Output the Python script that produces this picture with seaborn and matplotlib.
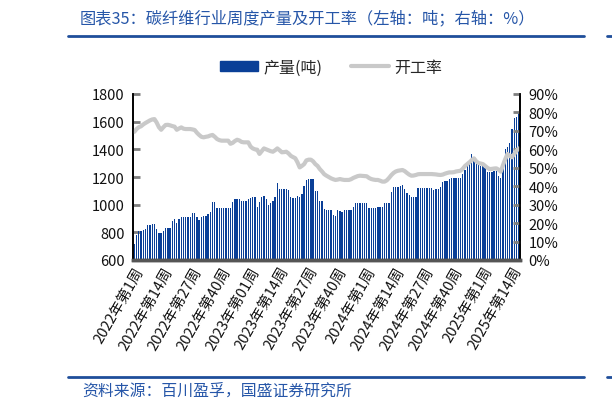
import numpy as np
import pandas as pd
import matplotlib
matplotlib.use("Agg")
import matplotlib.pyplot as plt
import seaborn as sns
from matplotlib.patches import Patch
from matplotlib.lines import Line2D

sns.set_theme(style="white")
plt.rcParams['font.family'] = ['Noto Sans CJK SC', 'DejaVu Sans']
plt.rcParams['axes.unicode_minus'] = False

# ---------------- data ----------------
title_text = "图表35：碳纤维行业周度产量及开工率（左轴：吨；右轴：%）"
source_text = "资料来源：百川盈孚，国盛证券研究所"
bar_name = "产量(吨)"
line_name = "开工率"

tick_labels = ["2022年第1周", "2022年第14周", "2022年第27周", "2022年第40周",
               "2023年第01周", "2023年第14周", "2023年第27周", "2023年第40周",
               "2024年第1周", "2024年第14周", "2024年第27周", "2024年第40周",
               "2025年第1周", "2025年第14周"]

output_t = [
    716, 780, 810, 810, 819, 824, 853, 855, 860, 860,
    824, 795, 795, 810, 834, 834, 834, 882, 896, 867,
    896, 911, 911, 911, 911, 911, 940, 940, 911, 889,
    911, 920, 920, 932, 944, 1017, 1017, 976, 976, 976,
    976, 976, 976,
    976, 1017, 1041, 1041, 1041, 1026, 1026, 1026, 1041, 1050,
    1055, 1055, 983, 1019, 1055, 1063, 1041, 997, 1012, 1026,
    1055, 1157, 1113, 1113, 1113, 1113, 1106, 1055, 1048, 1048,
    1063, 1055, 1077, 1135, 1178, 1185, 1185, 1185, 1099, 1099,
    1026, 1026, 968,
    961, 961, 961, 928, 918, 961, 954, 947, 961, 961,
    961, 961, 983, 1012, 1012, 1012, 1012, 1012, 1012, 976,
    976, 976, 976, 983, 983, 983, 1012, 1012, 1012, 1092,
    1128, 1128, 1128, 1133, 1142, 1113, 1084, 1070, 1055, 1055,
    1055, 1121,
    1121, 1121, 1121, 1121, 1121, 1121, 1109, 1113, 1113, 1125,
    1161, 1171, 1171, 1186, 1193, 1193, 1193, 1193, 1193, 1222,
    1251, 1282, 1306, 1364, 1330, 1306, 1287, 1282, 1282, 1268,
    1239, 1239, 1239, 1246, 1246, 1210, 1190, 1294, 1403, 1415,
    1446, 1547, 1624, 1631, 1672,
]

rate_pct = [
    69.5, 71.0, 72.0, 72.5, 73.5, 74.3, 75.0, 75.7, 76.2, 76.4,
    74.5, 72.0, 70.6, 72.0, 73.2, 73.3, 73.0, 72.6, 72.3, 70.6,
    71.3, 71.9, 71.2, 71.0, 71.0, 71.0, 70.8, 70.5, 69.0, 67.8,
    66.8, 66.5, 66.8, 67.0, 67.5, 67.8, 66.8, 65.6, 65.0, 64.7,
    64.7, 64.7, 64.7, 63.0, 63.5, 64.5, 65.2, 64.8, 64.0, 63.8,
    63.8, 63.8, 61.5, 60.5, 60.0, 59.8, 57.5, 59.0, 60.5, 60.0,
    59.5, 59.0, 58.7, 59.5, 60.5, 59.5, 58.4, 58.5, 58.7, 57.8,
    56.5, 55.8, 55.2, 53.0, 50.2, 51.0, 52.0, 54.0, 54.4, 54.4,
    53.5, 52.0, 51.0, 49.3, 48.0, 46.5, 45.7, 45.0, 44.3, 43.8,
    43.4, 43.6, 43.9, 43.6, 43.4, 43.4, 43.4, 43.8, 44.5, 45.0,
    45.5, 45.7, 45.6, 45.5, 45.4, 44.5, 43.9, 43.6, 43.4, 43.4,
    43.0, 42.5, 42.5, 43.2, 44.5, 46.0, 47.2, 48.0, 48.4, 48.6,
    48.8, 48.2, 47.2, 46.3, 45.7, 45.8, 46.1, 46.5, 46.6, 46.6,
    46.6, 46.6, 46.6, 46.6, 46.5, 46.4, 46.2, 46.1, 46.3, 46.8,
    47.2, 47.5, 47.5, 47.6, 48.0, 48.2, 48.4, 49.5, 51.0, 52.0,
    53.0, 54.2, 55.1, 53.5, 52.6, 52.3, 52.0, 51.0, 50.0, 49.3,
    49.4, 49.6, 49.7, 49.0, 47.9, 51.5, 54.7, 57.5, 56.5, 55.7,
    57.5, 59.2, 60.5,
]

n = min(len(output_t), len(rate_pct))
df = pd.DataFrame({"idx": np.arange(n), "output": output_t[:n], "rate": rate_pct[:n]})

BLUE_BAR = "#0a3f97"
GRAY_LINE = "#c9c9c9"
BLUE_TXT = "#2656a8"

fig = plt.figure(figsize=(6.12, 4.10), dpi=100)
ax = fig.add_axes([133/612, 1-261/410, (520-133)/612, (261-95)/410])

sns.barplot(data=df, x="idx", y="output", ax=ax, color=BLUE_BAR,
            width=0.6, saturation=1, linewidth=0, edgecolor=BLUE_BAR)
ax.set_ylim(600, 1800)
ax.set_yticks(np.arange(600, 1801, 200))
ax.set_xlim(-0.6, n - 0.4)

ax2 = ax.twinx()
sns.lineplot(data=df, x="idx", y="rate", ax=ax2, color=GRAY_LINE, lw=3)
ax2.set_ylim(0, 90)
ax2.set_yticks(np.arange(0, 91, 10))
ax2.set_yticklabels([f"{v}%" for v in range(0, 91, 10)])
ax2.set_xlim(-0.6, n - 0.4)

tick_pos = list(range(0, n, 13))[:len(tick_labels)]
ax.set_xticks(tick_pos)
ax.set_xticklabels(tick_labels[:len(tick_pos)], rotation=60, ha="right",
                   rotation_mode="anchor", fontsize=10.5, color="#111111")
ax.set_xlabel("")
ax.set_ylabel("")
ax2.set_xlabel("")
ax2.set_ylabel("")

for a in (ax, ax2):
    a.grid(False)
    a.spines["top"].set_visible(False)
    a.spines["left"].set_color("#000000")
    a.spines["right"].set_color("#000000")
    a.spines["left"].set_linewidth(1.2)
    a.spines["right"].set_linewidth(1.2)
    a.spines["bottom"].set_color("#555555")
    a.spines["bottom"].set_linewidth(2.5)

ax.tick_params(axis="y", direction="in", length=5, width=2, color="#7f7f7f",
               labelsize=10.5, labelcolor="#111111", pad=6, left=True)
ax2.tick_params(axis="y", direction="in", length=5, width=2, color="#7f7f7f",
                labelsize=10.5, labelcolor="#111111", pad=6, right=True)
ax.tick_params(axis="x", length=0, pad=3)
ax2.tick_params(axis="x", length=0)

# legend
handles = [Patch(facecolor=BLUE_BAR, edgecolor=BLUE_BAR),
           Line2D([0], [0], color=GRAY_LINE, lw=3)]
fig.legend(handles, [bar_name, line_name], loc="center",
           bbox_to_anchor=(331/612, 1-68/410), ncol=2, frameon=False,
           fontsize=11.5, handlelength=2.4, handleheight=0.6,
           handletextpad=0.3, columnspacing=1.8)

# title, rules, footer
fig.text(80/612, 1-19/410, title_text, color=BLUE_TXT, fontsize=11.7,
         ha="left", va="center")
fig.text(82/612, 1-391/410, source_text, color=BLUE_TXT, fontsize=11.4,
         ha="left", va="center")
for yy in (37, 378):
    fig.add_artist(Line2D([68/612, 584/612], [1-yy/410, 1-yy/410],
                          color="#1f4e9a", lw=2, transform=fig.transFigure))
    fig.add_artist(Line2D([607/612, 1.0], [1-yy/410, 1-yy/410],
                          color="#1f4e9a", lw=2, transform=fig.transFigure))

fig.savefig("out.png", dpi=100)
